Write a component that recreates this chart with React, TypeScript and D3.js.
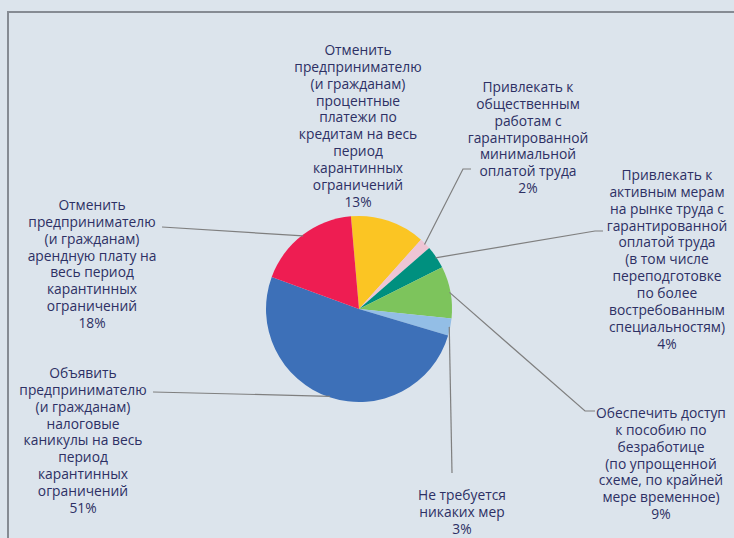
import React from "react";
import * as d3 from "d3";

const categories: string[][] = [
  ["Отменить", "предпринимателю", "(и гражданам)", "процентные", "платежи по", "кредитам на весь", "период", "карантинных", "ограничений"],
  ["Привлекать к", "общественным", "работам с", "гарантированной", "минимальной", "оплатой труда"],
  ["Привлекать к", "активным мерам", "на рынке труда с", "гарантированной", "оплатой труда", "(в том числе", "переподготовке", "по более", "востребованным", "специальностям)"],
  ["Обеспечить доступ", "к пособию по", "безработице", "(по упрощенной", "схеме, по крайней", "мере временное)"],
  ["Не требуется", "никаких мер"],
  ["Объявить", "предпринимателю", "(и гражданам)", "налоговые", "каникулы на весь", "период", "карантинных", "ограничений"],
  ["Отменить", "предпринимателю", "(и гражданам)", "арендную плату на", "весь период", "карантинных", "ограничений"],
];
const values: number[] = [13, 2, 4, 9, 3, 51, 18];
const percentLabels: string[] = ["13%", "2%", "4%", "9%", "3%", "51%", "18%"];
const colors: string[] = ["#FBC523", "#EEC5D5", "#00907F", "#7DC45C", "#93BEE6", "#3D70B8", "#EE1D52"];

// layout (label anchor: centre x, baseline of first line; leader path points)
const labelPos = [
  { x: 358, y: 55, leader: null as null | [number, number][] },
  { x: 528, y: 92, leader: [[463, 169], [471, 169]] as [number, number][] },
  { x: 667, y: 180, leader: [[595, 231], [603, 231]] as [number, number][] },
  { x: 661, y: 418, leader: [[585, 411], [595, 411]] as [number, number][] },
  { x: 462, y: 500, leader: [[452, 473]] as [number, number][] },
  { x: 83, y: 378, leader: [[153, 392]] as [number, number][] },
  { x: 92, y: 210, leader: [[162, 227]] as [number, number][] },
];

const W = 734;
const H = 538;
const cx = 359;
const cy = 309;
const R = 93;
const lineH = 16.85;
const startDeg = -5;

export default function App() {
  const pie = d3
    .pie<number>()
    .sort(null)
    .value((d) => d)
    .startAngle((startDeg * Math.PI) / 180)
    .endAngle(((startDeg + 360) * Math.PI) / 180);
  const arcs = pie(values);
  const arc = d3.arc<d3.PieArcDatum<number>>().innerRadius(0).outerRadius(R);
  const line = d3.line();

  return (
    <svg
      width={W}
      height={H}
      style={{ position: "fixed", left: 0, top: 0, background: "#DCE4EC" }}
      fontFamily="'Open Sans', 'Noto Sans', sans-serif"
    >
      <rect x={0} y={0} width={W} height={H} fill="#DCE4EC" />
      <rect x={8} y={12} width={W + 20} height={H + 20} fill="none" stroke="#868B93" strokeWidth={2} />
      <g transform={`translate(${cx},${cy})`}>
        {arcs.map((a, i) => (
          <path key={i} d={arc(a) || ""} fill={colors[i]} />
        ))}
      </g>
      {arcs.map((a, i) => {
        const lp = labelPos[i];
        if (!lp.leader) return null;
        const mid = (a.startAngle + a.endAngle) / 2;
        const p0: [number, number] = [cx + Math.sin(mid) * (R - 1), cy - Math.cos(mid) * (R - 1)];
        return (
          <path key={"l" + i} d={line([p0, ...lp.leader]) || ""} fill="none" stroke="#7F7F7F" strokeWidth={1.2} />
        );
      })}
      {categories.map((lines, i) => {
        const lp = labelPos[i];
        const all = [...lines, percentLabels[i]];
        return (
          <text key={"t" + i} fill="#2D3064" fontSize={13.8} fontWeight={500} textAnchor="middle">
            {all.map((s, j) => (
              <tspan key={j} x={lp.x} y={lp.y + j * lineH}>
                {s}
              </tspan>
            ))}
          </text>
        );
      })}
    </svg>
  );
}
